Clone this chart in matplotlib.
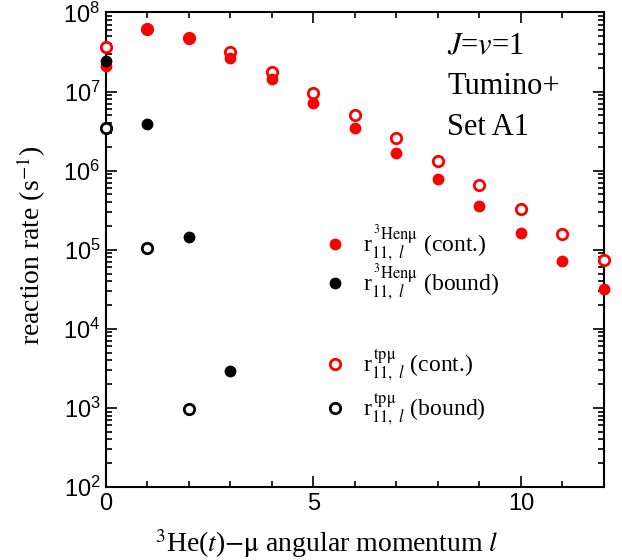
import numpy as np
import matplotlib.pyplot as plt
from matplotlib.ticker import LogLocator, MultipleLocator, NullFormatter

plt.rcParams['font.family'] = 'Liberation Serif'
plt.rcParams['mathtext.fontset'] = 'stix'

# angular momentum l
l_cont = np.arange(0, 13)
l_bound_he = np.arange(0, 4)
l_bound_t = np.arange(0, 3)

# 3He n mu channel, continuum and bound
he_cont = [2.12e7, 6.1e7, 4.76e7, 2.68e7, 1.43e7, 7.2e6, 3.5e6, 1.69e6,
           7.9e5, 3.6e5, 1.62e5, 7.1e4, 3.17e4]
he_bound = [2.46e7, 3.86e6, 1.44e5, 2.94e3]
# t p mu channel, continuum and bound
t_cont = [3.7e7, 6.1e7, 4.8e7, 3.14e7, 1.79e7, 9.7e6, 5.06e6, 2.61e6,
          1.33e6, 6.6e5, 3.25e5, 1.57e5, 7.4e4]
t_bound = [3.44e6, 1.06e5, 964]

fig = plt.figure(figsize=(6.22, 5.6), dpi=100)
ax = fig.add_axes([0.1704, 0.1304, 0.8006, 0.8473])

ms = 8.5
h_tc, = ax.plot(l_cont, t_cont, 'o', ms=ms - 1, mfc='white', mec='red', mew=2,
                clip_on=False, zorder=3)
h_tb, = ax.plot(l_bound_t, t_bound, 'o', ms=ms - 1, mfc='white', mec='black', mew=2,
                clip_on=False, zorder=3)
h_hc, = ax.plot(l_cont, he_cont, 'o', ms=ms, color='red', mec='none',
                clip_on=False, zorder=4)
h_hb, = ax.plot(l_bound_he, he_bound, 'o', ms=ms, color='black', mec='none',
                clip_on=False, zorder=5)

ax.set_yscale('log')
ax.set_xlim(0, 12)
ax.set_ylim(1e2, 1e8)
ax.xaxis.set_major_locator(MultipleLocator(5))
ax.xaxis.set_minor_locator(MultipleLocator(1))
ax.yaxis.set_major_locator(LogLocator(base=10, numticks=10))
ax.yaxis.set_minor_locator(LogLocator(base=10, subs=np.arange(2, 10), numticks=20))
ax.yaxis.set_minor_formatter(NullFormatter())
ax.tick_params(which='both', direction='in', top=True, right=True, width=1.2)
ax.tick_params(which='major', length=8, labelsize=17, pad=4)
ax.tick_params(which='minor', length=4)
for lab in ax.get_xticklabels() + ax.get_yticklabels():
    lab.set_family('Liberation Sans')
for s in ax.spines.values():
    s.set_linewidth(1.5)

ax.set_xlabel(r'$^{3}$He($t$)$-\mathrm{μ}$ angular momentum $l$', fontsize=20)
ax.xaxis.set_label_coords(0.444, -0.085)
ax.set_ylabel(r'reaction rate (s$^{-1}$)', fontsize=20)
ax.yaxis.set_label_coords(-0.117, 0.51)

lab_he = r'r$^{\,^{3}\mathrm{Henμ}}_{11,\ l}$'
lab_t = r'r$^{\,\mathrm{tpμ}}_{11,\ l}$'
leg1 = ax.legend([h_hc, h_hb], [lab_he + ' (cont.)', lab_he + ' (bound)'],
                 loc='upper left', bbox_to_anchor=(0.418, 0.577), frameon=False,
                 fontsize=17, handlelength=1.0, handletextpad=0.65,
                 labelspacing=-0.1, borderaxespad=0)
ax.add_artist(leg1)
ax.legend([h_tc, h_tb], [lab_t + ' (cont.)', lab_t + ' (bound)'],
          loc='upper left', bbox_to_anchor=(0.418, 0.314), frameon=False,
          fontsize=17, handlelength=1.0, handletextpad=0.65,
          labelspacing=0.35, borderaxespad=0)

ax.text(0.685, 0.93, r'$J$=$v$=1', transform=ax.transAxes, fontsize=22, va='center')
ax.text(0.685, 0.845, 'Tumino+', transform=ax.transAxes, fontsize=22, va='center')
ax.text(0.685, 0.758, 'Set A1', transform=ax.transAxes, fontsize=22, va='center')

fig.savefig('out.png', dpi=100)
